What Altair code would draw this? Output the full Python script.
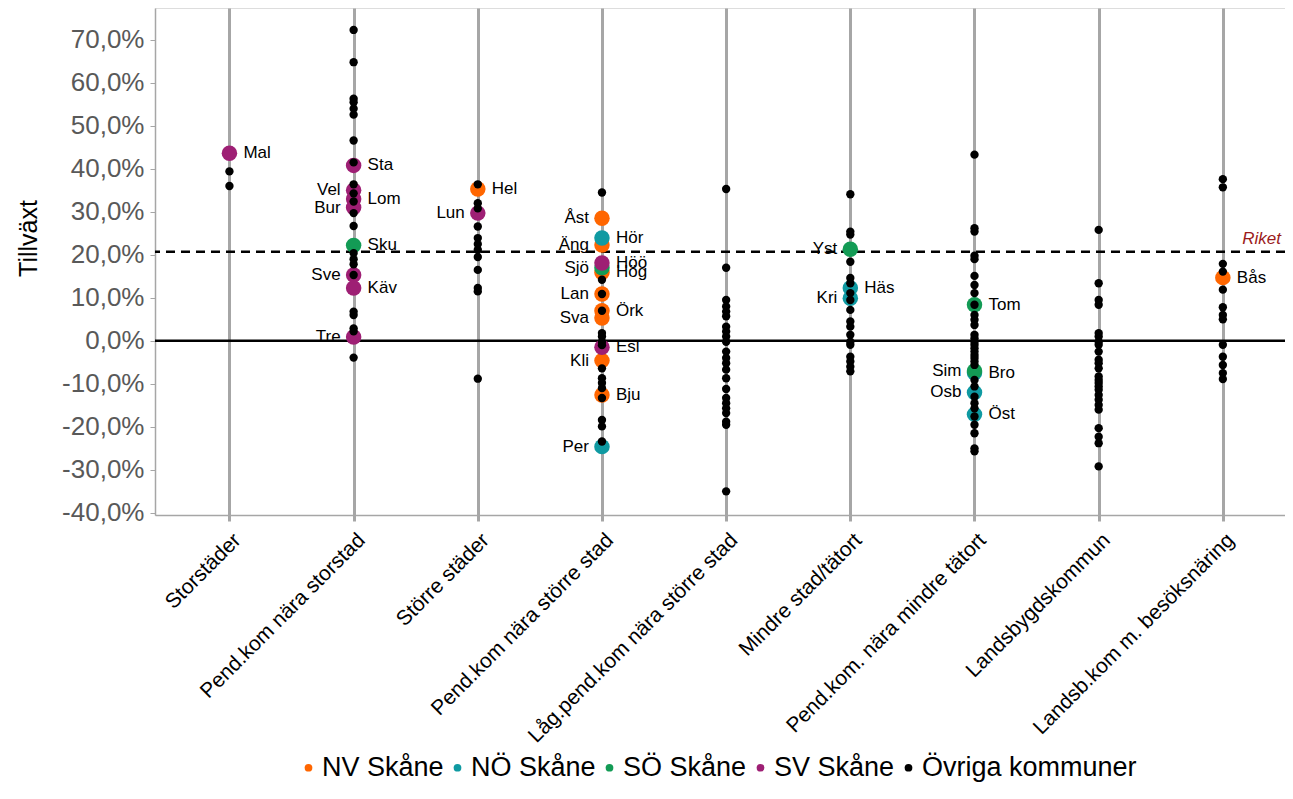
import altair as alt
import pandas as pd

cats = ["Storstäder", "Pend.kom nära storstad", "Större städer",
        "Pend.kom nära större stad", "Låg.pend.kom nära större stad",
        "Mindre stad/tätort", "Pend.kom. nära mindre tätort",
        "Landsbygdskommun", "Landsb.kom m. besöksnäring"]

groups = ["NV Skåne", "NÖ Skåne", "SÖ Skåne", "SV Skåne", "Övriga kommuner"]
colors = ["#FF6600", "#0F9AA2", "#139B55", "#9E1F74", "#000000"]

riket = 20.7
y_ticks = [-40, -30, -20, -10, 0, 10, 20, 30, 40, 50, 60, 70]

# NV Skåne
nv_names = ["Hel", "Åst", "Äng", "Hög", "Lan", "Örk", "Sva", "Kli", "Bju", "Bås"]
nv_cat = [2, 3, 3, 3, 3, 3, 3, 3, 3, 8]
nv_vals = [35.3, 28.5, 22.3, 15.9, 10.9, 7.0, 5.3, -4.6, -12.6, 14.7]
nv_side = ["R", "L", "L", "R", "L", "R", "L", "L", "R", "R"]

# NÖ Skåne
no_names = ["Hör", "Per", "Häs", "Kri", "Bro", "Osb", "Öst"]
no_cat = [3, 3, 5, 5, 6, 6, 6]
no_vals = [23.9, -24.6, 12.3, 9.9, -7.4, -12.0, -17.1]
no_side = ["R", "L", "R", "L", "R", "L", "R"]

# SÖ Skåne
so_names = ["Sku", "Sjö", "Yst", "Tom", "Sim"]
so_cat = [1, 3, 5, 6, 6]
so_vals = [22.2, 17.0, 21.3, 8.4, -7.0]
so_side = ["R", "L", "L", "R", "L"]

# SV Skåne
sv_names = ["Mal", "Sta", "Vel", "Lom", "Bur", "Sve", "Käv", "Tre", "Lun", "Höö", "Esl"]
sv_cat = [0, 1, 1, 1, 1, 1, 1, 1, 2, 3, 3]
sv_vals = [43.6, 40.8, 35.0, 33.0, 31.0, 15.3, 12.3, 0.9, 29.7, 18.1, -1.5]
sv_side = ["R", "R", "L", "R", "L", "L", "R", "L", "L", "R", "R"]

# Övriga kommuner, one list per category
ovr_storstad = [39.4, 36.0]
ovr_pend_storstad = [72.3, 64.8, 56.3, 55.5, 54.0, 52.6, 46.6, 41.5, 36.4, 34.3, 32.4,
                     29.7, 26.7, 20.4, 19.0, 17.8, 15.3, 6.8, 6.0, 2.9, 2.2, -3.9]
ovr_storre = [36.4, 32.0, 30.8, 26.6, 23.9, 22.5, 21.2, 19.5, 16.5, 12.3, 11.5, -8.8]
ovr_pend_storre = [34.5, 14.2, 10.9, 7.0, 1.8, 1.0, -0.2, -1.0, -6.4, -8.7, -9.8,
                   -11.0, -13.3, -18.4, -19.9, -23.4]
ovr_lagpend = [35.3, 17.0, 9.5, 8.0, 6.8, 5.7, 3.3, 2.2, 1.0, -0.2, -2.5, -4.0, -5.2,
               -6.7, -8.7, -11.2, -13.3, -14.5, -15.7, -16.8, -18.8, -19.5, -35.0]
ovr_mindre = [34.1, 25.4, 24.7, 18.4, 14.6, 13.4, 11.1, 9.5, 7.2, 4.5, 3.3, 1.4, -0.2,
              -0.9, -3.7, -4.8, -6.0, -7.1]
ovr_pend_mindre = [43.3, 26.2, 25.4, 19.8, 19.0, 15.1, 13.0, 11.1, 8.4, 6.0, 4.9, 3.7,
                   1.4, 0.6, -0.2, -0.9, -1.7, -2.5, -3.3, -4.0, -4.8, -5.6, -9.1,
                   -10.6, -13.0, -14.5, -15.7, -17.6, -19.5, -21.5, -25.0, -25.7]
ovr_landsbygd = [25.8, 13.4, 9.5, 8.4, 1.8, 1.0, -0.2, -0.9, -2.5, -4.4, -5.2, -6.4,
                 -8.3, -9.1, -9.8, -10.6, -11.4, -12.6, -13.7, -14.9, -16.0, -20.3,
                 -22.3, -23.8, -29.2]
ovr_besok = [37.6, 35.7, 17.9, 16.1, 11.9, 7.8, 6.0, 5.0, -0.9, -3.7, -5.6, -7.5, -8.9]

# ---- build tables ----
rows = []
for g, names, cidx, vals, sides in [
    (groups[0], nv_names, nv_cat, nv_vals, nv_side),
    (groups[1], no_names, no_cat, no_vals, no_side),
    (groups[2], so_names, so_cat, so_vals, so_side),
    (groups[3], sv_names, sv_cat, sv_vals, sv_side),
]:
    for n, c, v, s in zip(names, cidx, vals, sides):
        rows.append({"cat": cats[c], "value": v, "group": g, "name": n, "side": s})
skane = pd.DataFrame(rows)

ovr_lists = [ovr_storstad, ovr_pend_storstad, ovr_storre, ovr_pend_storre, ovr_lagpend,
             ovr_mindre, ovr_pend_mindre, ovr_landsbygd, ovr_besok]
orows = []
for c, lst in zip(cats, ovr_lists):
    for v in lst:
        orows.append({"cat": c, "value": v, "group": groups[4]})
ovr = pd.DataFrame(orows)

W, H = 1130, 507
FONT = "Liberation Sans"

xscale = alt.Scale(type="point", domain=cats, padding=0.55, align=0.545)
yscale = alt.Scale(domain=[-40.5, 77.4], nice=False, zero=False)

x_enc = alt.X("cat:N", scale=xscale, sort=cats,
              axis=alt.Axis(title=None, labelAngle=-45, labelAlign="right",
                            labelBaseline="top", labelFontSize=21, labelColor="#000000",
                            labelPadding=8, labelLimit=500, tickSize=6, tickWidth=3,
                            tickColor="#A6A6A6", domainColor="#A6A6A6", domainWidth=1.5,
                            grid=True, gridColor="#A6A6A6", gridWidth=3,
                            labelFont=FONT))
y_enc = alt.Y("value:Q", scale=yscale,
              axis=alt.Axis(title="Tillväxt", values=y_ticks,
                            labelExpr="datum.value + ',0%'",
                            labelFontSize=26, labelColor="#595959", labelFont=FONT,
                            labelPadding=6, tickSize=5, tickColor="#A6A6A6",
                            domainColor="#A6A6A6", domainWidth=1.5, grid=False,
                            titleFontSize=25, titleFontWeight="normal",
                            titleColor="#000000", titleFont=FONT,
                            titleX=-127, titleY=230, titleAngle=-90,
                            titleAlign="center", titleBaseline="middle"))

color_enc = alt.Color("group:N", scale=alt.Scale(domain=groups, range=colors),
                      legend=alt.Legend(orient="none", legendX=140, legendY=746,
                                        direction="horizontal", columns=5, title=None,
                                        symbolType="circle", symbolSize=60,
                                        symbolStrokeWidth=0, labelFontSize=27,
                                        labelFont=FONT, labelColor="#000000",
                                        labelOffset=0, columnPadding=0,
                                        labelLimit=400))

zero_rule = alt.Chart(pd.DataFrame({"v": [0]})).mark_rule(
    color="#000000", strokeWidth=2.5).encode(y=alt.Y("v:Q", scale=yscale))
riket_rule = alt.Chart(pd.DataFrame({"v": [riket]})).mark_rule(
    color="#000000", strokeWidth=2.5, strokeDash=[9, 6]).encode(y=alt.Y("v:Q", scale=yscale))
riket_text = alt.Chart(pd.DataFrame({"v": [riket], "t": ["Riket"]})).mark_text(
    align="right", baseline="bottom", dy=-4, fontSize=17, fontStyle="italic",
    color="#9B1B1B", font=FONT).encode(
    x=alt.value(W - 4), y=alt.Y("v:Q", scale=yscale), text="t:N")

sk_points = alt.Chart(skane).mark_circle(size=240, opacity=1).encode(
    x=x_enc, y=y_enc, color=color_enc)
ovr_points = alt.Chart(ovr).mark_circle(size=70, opacity=1).encode(
    x=x_enc, y=y_enc, color=color_enc)

lab_r = alt.Chart(skane).transform_filter(alt.datum.side == "R").mark_text(
    align="left", baseline="middle", dx=14, fontSize=17, font=FONT, color="#000000").encode(
    x=x_enc, y=y_enc, text="name:N")
lab_l = alt.Chart(skane).transform_filter(alt.datum.side == "L").mark_text(
    align="right", baseline="middle", dx=-13, fontSize=17, font=FONT, color="#000000").encode(
    x=x_enc, y=y_enc, text="name:N")

chart = alt.layer(
    zero_rule, riket_rule, sk_points, ovr_points, lab_r, lab_l, riket_text
).properties(
    width=W, height=H,
    autosize=alt.AutoSizeParams(type="none"),
    padding={"left": 147, "top": 0, "right": 0, "bottom": 272},
).configure_view(
    stroke="#A6A6A6", strokeWidth=1
).configure(font=FONT)

chart.save("out.html", embed_options={"renderer": "svg", "actions": False})
